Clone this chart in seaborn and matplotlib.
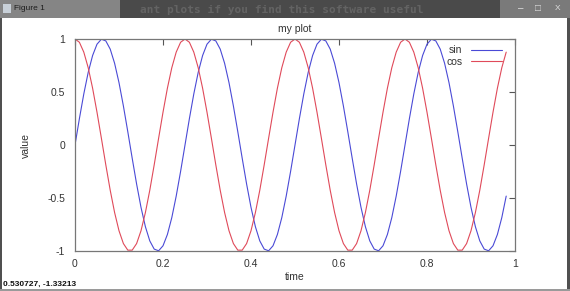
import matplotlib
matplotlib.use("Agg")
import matplotlib.pyplot as plt
import seaborn as sns
import pandas as pd
from matplotlib.patches import Rectangle

time = [0.00, 0.01, 0.02, 0.03, 0.04, 0.05, 0.06, 0.07, 0.08, 0.09,
        0.10, 0.11, 0.12, 0.13, 0.14, 0.15, 0.16, 0.17, 0.18, 0.19,
        0.20, 0.21, 0.22, 0.23, 0.24, 0.25, 0.26, 0.27, 0.28, 0.29,
        0.30, 0.31, 0.32, 0.33, 0.34, 0.35, 0.36, 0.37, 0.38, 0.39,
        0.40, 0.41, 0.42, 0.43, 0.44, 0.45, 0.46, 0.47, 0.48, 0.49,
        0.50, 0.51, 0.52, 0.53, 0.54, 0.55, 0.56, 0.57, 0.58, 0.59,
        0.60, 0.61, 0.62, 0.63, 0.64, 0.65, 0.66, 0.67, 0.68, 0.69,
        0.70, 0.71, 0.72, 0.73, 0.74, 0.75, 0.76, 0.77, 0.78, 0.79,
        0.80, 0.81, 0.82, 0.83, 0.84, 0.85, 0.86, 0.87, 0.88, 0.89,
        0.90, 0.91, 0.92, 0.93, 0.94, 0.95, 0.96, 0.97, 0.98]

sin_values = [
    0.000, 0.249, 0.482, 0.685, 0.844, 0.951, 0.998, 0.982, 0.905, 0.771,
    0.588, 0.368, 0.125, -0.125, -0.368, -0.588, -0.771, -0.905, -0.982, -0.998,
    -0.951, -0.844, -0.685, -0.482, -0.249,
    0.000, 0.249, 0.482, 0.685, 0.844, 0.951, 0.998, 0.982, 0.905, 0.771,
    0.588, 0.368, 0.125, -0.125, -0.368, -0.588, -0.771, -0.905, -0.982, -0.998,
    -0.951, -0.844, -0.685, -0.482, -0.249,
    0.000, 0.249, 0.482, 0.685, 0.844, 0.951, 0.998, 0.982, 0.905, 0.771,
    0.588, 0.368, 0.125, -0.125, -0.368, -0.588, -0.771, -0.905, -0.982, -0.998,
    -0.951, -0.844, -0.685, -0.482, -0.249,
    0.000, 0.249, 0.482, 0.685, 0.844, 0.951, 0.998, 0.982, 0.905, 0.771,
    0.588, 0.368, 0.125, -0.125, -0.368, -0.588, -0.771, -0.905, -0.982, -0.998,
    -0.951, -0.844, -0.685, -0.482]

cos_values = [
    1.000, 0.969, 0.876, 0.729, 0.536, 0.309, 0.063, -0.187, -0.426, -0.637,
    -0.809, -0.930, -0.992, -0.992, -0.930, -0.809, -0.637, -0.426, -0.187, 0.063,
    0.309, 0.536, 0.729, 0.876, 0.969,
    1.000, 0.969, 0.876, 0.729, 0.536, 0.309, 0.063, -0.187, -0.426, -0.637,
    -0.809, -0.930, -0.992, -0.992, -0.930, -0.809, -0.637, -0.426, -0.187, 0.063,
    0.309, 0.536, 0.729, 0.876, 0.969,
    1.000, 0.969, 0.876, 0.729, 0.536, 0.309, 0.063, -0.187, -0.426, -0.637,
    -0.809, -0.930, -0.992, -0.992, -0.930, -0.809, -0.637, -0.426, -0.187, 0.063,
    0.309, 0.536, 0.729, 0.876, 0.969,
    1.000, 0.969, 0.876, 0.729, 0.536, 0.309, 0.063, -0.187, -0.426, -0.637,
    -0.809, -0.930, -0.992, -0.992, -0.930, -0.809, -0.637, -0.426, -0.187, 0.063,
    0.309, 0.536, 0.729, 0.876]

series_names = ["sin", "cos"]
series_colors = ["#4a4ad6", "#e04a5a"]
x_ticks = [0, 0.2, 0.4, 0.6, 0.8, 1]
x_tick_labels = ["0", "0.2", "0.4", "0.6", "0.8", "1"]
y_ticks = [-1, -0.5, 0, 0.5, 1]
y_tick_labels = ["-1", "-0.5", "0", "0.5", "1"]
title_text = "my plot"
x_label = "time"
y_label = "value"
status_text = "0.530727, -1.33213"
window_title = "Figure 1"

df = pd.concat([
    pd.DataFrame({"time": time, "value": sin_values, "series": series_names[0]}),
    pd.DataFrame({"time": time, "value": cos_values, "series": series_names[1]}),
], ignore_index=True)

sns.set_theme(style="white")
plt.rcParams["font.family"] = ["Liberation Sans", "DejaVu Sans"]

W, H = 570, 291
fig = plt.figure(figsize=(W / 100, H / 100), dpi=100)
fig.patch.set_facecolor("white")

# ---- window chrome ----
def frect(x0, y0, x1, y1, color, z=0, **kw):
    fig.patches.append(Rectangle((x0 / W, 1 - y1 / H), (x1 - x0) / W, (y1 - y0) / H,
                                 transform=fig.transFigure, facecolor=color,
                                 edgecolor="none", zorder=z, **kw))

frect(0, 0, W, 18, "#5e5e5e")
frect(0, 0, 120, 18, "#858585")
frect(120, 0, 500, 18, "#4a4a4a")
frect(500, 0, W, 18, "#7a7a7a")
fig.text(140 / W, 1 - 10 / H, "ant plots if you find this software useful",
         fontsize=8, color="#6a6a6a", va="center", ha="left", fontweight="bold",
         family="DejaVu Sans Mono", alpha=0.8)
frect(3, 4, 11, 13, "#c8d0d8", z=2)
fig.text(14 / W, 1 - 9 / H, window_title, fontsize=6, color="#1e1e1e", va="center", ha="left")
fig.text(521 / W, 1 - 8 / H, "–", fontsize=7, color="#e0e0e0", va="center", ha="center")
fig.text(538 / W, 1 - 8 / H, "□", fontsize=7, color="#e0e0e0", va="center", ha="center")
fig.text(558 / W, 1 - 8 / H, "X", fontsize=6, color="#e0e0e0", va="center", ha="center")
frect(0, 18, 2, H, "#505050")
frect(567, 18, W, H, "#505050")
frect(0, 289, W, H, "#9a9a9a")

# ---- axes ----
ax = fig.add_axes([75 / W, 1 - 251 / H, 440 / W, 212 / H])
sns.lineplot(data=df, x="time", y="value", hue="series",
             palette=dict(zip(series_names, series_colors)),
             linewidth=0.8, ax=ax, legend=True)

ax.set_xlim(0, 1)
ax.set_ylim(-1, 1)
ax.set_xticks(x_ticks)
ax.set_xticklabels(x_tick_labels)
ax.set_yticks(y_ticks)
ax.set_yticklabels(y_tick_labels)
ax.tick_params(direction="in", length=4, width=0.8, color="#555555",
               labelsize=7.5, labelcolor="#333333", top=True, right=True,
               labeltop=False, labelright=False, pad=7)
ax.tick_params(axis="x", pad=6)
for s in ax.spines.values():
    s.set_color("#777777")
    s.set_linewidth(0.9)
    s.set_visible(True)

ax.set_xlabel(x_label, fontsize=7.5, color="#333333", labelpad=2)
ax.set_ylabel(y_label, fontsize=7.5, color="#333333", labelpad=6)
ax.yaxis.set_label_coords(-0.1, 0.5)
ax.set_title(title_text, fontsize=7.5, color="#333333", pad=5)

leg = ax.legend(loc="upper right", frameon=False, markerfirst=False,
                fontsize=7.5, handlelength=3.0, handletextpad=0.8,
                labelspacing=0.15, borderaxespad=0.2,
                bbox_to_anchor=(0.985, 1.0))
for t in leg.get_texts():
    t.set_color("#333333")

fig.text(3 / W, 1 - 284 / H, status_text, fontsize=6, color="#111111",
         va="center", ha="left", fontweight="bold")

fig.savefig("out.png", dpi=100)
